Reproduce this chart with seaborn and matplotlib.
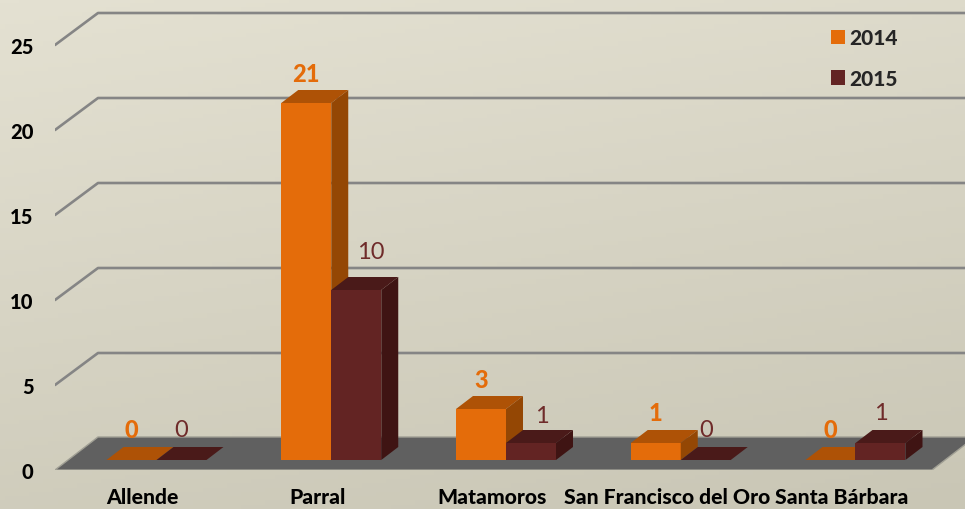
import numpy as np
import pandas as pd
import matplotlib
matplotlib.use("Agg")
import matplotlib.pyplot as plt
import matplotlib.transforms as mtrans
from matplotlib.patches import Polygon
import seaborn as sns

# data
municipios = ['Allende', 'Parral', 'Matamoros', 'San Francisco del Oro', 'Santa Bárbara']
valores_2014 = [0, 21, 3, 1, 0]
valores_2015 = [0, 10, 1, 0, 1]
anios = ['2014', '2015']
y_ticks = [0, 5, 10, 15, 20, 25]

df = pd.DataFrame({
    'municipio': municipios * 2,
    'anio': ['2014'] * 5 + ['2015'] * 5,
    'casos': valores_2014 + valores_2015,
})

# colours: front, top, side
col_2014 = ['#e46c0a', '#ae5206', '#944704']
col_2015 = ['#632423', '#4a1a19', '#3f1413']

W, H = 965, 510
PX_CAT = 174.75   # pixels per category
PX_UNIT = 17.0    # pixels per y unit
PESO = 'black'

sns.set_theme(style='white')
plt.rcParams['font.family'] = ['Lato', 'DejaVu Sans']

fig = plt.figure(figsize=(W / 100, H / 100), dpi=100)

# background gradient
bg = fig.add_axes([0, 0, 1, 1], zorder=0)
yy, xx = np.mgrid[0:1:120j, 0:1:200j]
bg.imshow(0.75 * yy + 0.25 * xx, cmap=matplotlib.colors.LinearSegmentedColormap.from_list(
    'bg', ['#e4e1d2', '#c9c6b5']), aspect='auto', vmin=0, vmax=1)
bg.axis('off')

# main axes, left edge at the front corner of the floor
ax = fig.add_axes([55 / W, (H - 471) / H, (W - 55) / W, 471 / H], zorder=1)
ax.patch.set_alpha(0)

sns.barplot(data=df, x='municipio', y='casos', hue='anio', order=municipios, hue_order=anios,
            palette=[col_2014[0], col_2015[0]], width=100 / PX_CAT, gap=0, saturation=1,
            linewidth=0, ax=ax)

ax.set_xlim(-(156.5 - 55) / PX_CAT, (W - 156.5) / PX_CAT)
y_base = -10 / PX_UNIT
ax.set_ylim(y_base, 461 / PX_UNIT)

# wall and floor
wall_dx, wall_dy = 43 / PX_CAT, 33 / PX_UNIT
x0 = ax.get_xlim()[0]
x_der = (932 - 156.5) / PX_CAT
for v in y_ticks[1:]:
    yv = v + y_base
    ax.plot([x0, x0 + wall_dx, ax.get_xlim()[1]], [yv, yv + wall_dy - 1 / PX_UNIT, yv + wall_dy - 1 / PX_UNIT],
            color='#858585', lw=1.9, zorder=1, solid_joinstyle='round')
ax.add_patch(Polygon([(x0, y_base), (x0 + wall_dx, y_base + wall_dy),
                      (x_der + wall_dx, y_base + wall_dy), (x_der, y_base)],
                     facecolor='#606060', edgecolor='#a09f94', lw=1, zorder=1.5))

# 3d faces of the bars
depth_x, depth_y = 17 / PX_CAT, 13 / PX_UNIT
for k, (cont, cols) in enumerate(zip(ax.containers, [col_2014, col_2015])):
    for bar in cont:
        bar.set_zorder(3 + k)
        x, w, h = bar.get_x(), bar.get_width(), bar.get_height()
        ax.add_patch(Polygon([(x, h), (x + w, h), (x + w + depth_x, h + depth_y), (x + depth_x, h + depth_y)],
                             facecolor=cols[1], edgecolor='none', zorder=3 + k))
        if h > 0:
            ax.add_patch(Polygon([(x + w, 0), (x + w + depth_x, depth_y), (x + w + depth_x, h + depth_y), (x + w, h)],
                                 facecolor=cols[2], edgecolor='none', zorder=3 + k))

# value labels, a couple were moved by hand in the original
nudges = {('2015', 'Parral'): (15, 8), ('2015', 'Matamoros'): (11, -3)}
for cont, anio, vals, col, peso in zip(ax.containers, anios, [valores_2014, valores_2015],
                                       ['#e46c0a', '#6f2b2a'], [PESO, 'normal']):
    for bar, m, v in zip(cont, municipios, vals):
        nx, ny = nudges.get((anio, m), (0, 0))
        ax.annotate(str(v), (bar.get_x() + bar.get_width() / 2, v), xytext=(nx * 0.72, (30 + ny) * 0.72),
                    textcoords='offset points', ha='center', va='center', color=col,
                    fontsize=17, fontweight=peso, zorder=6)

# axes text
ax.set_xlabel('')
ax.set_ylabel('')
ax.set_yticks(y_ticks)
ax.set_xticks(range(len(municipios)))
ax.set_xticklabels(municipios)
ax.tick_params(axis='x', length=0, pad=12.5, labelsize=15.2, labelcolor='black')
ax.tick_params(axis='y', length=0, pad=15.5, labelsize=14.5, labelcolor='black')
for lab in ax.get_xticklabels():
    lab.set_fontweight(PESO)
    lab.set_transform(lab.get_transform() + mtrans.ScaledTranslation(-14 / 100, 0, fig.dpi_scale_trans))
for lab in ax.get_yticklabels():
    lab.set_fontweight(PESO)
    lab.set_transform(lab.get_transform() + mtrans.ScaledTranslation(0, -10 / 100, fig.dpi_scale_trans))
sns.despine(ax=ax, left=True, bottom=True, top=True, right=True)

# legend
sns.move_legend(ax, 'upper left', bbox_to_anchor=(831 / W, 1 - 29 / H), bbox_transform=fig.transFigure,
                title=None, frameon=False, fontsize=15, handlelength=0.67, handleheight=0.67,
                handletextpad=0.22, labelspacing=1.05, borderpad=0, borderaxespad=0)
for t in ax.get_legend().get_texts():
    t.set_fontweight(PESO)
ax.get_legend().set_zorder(7)

fig.savefig('out.png', dpi=100)
